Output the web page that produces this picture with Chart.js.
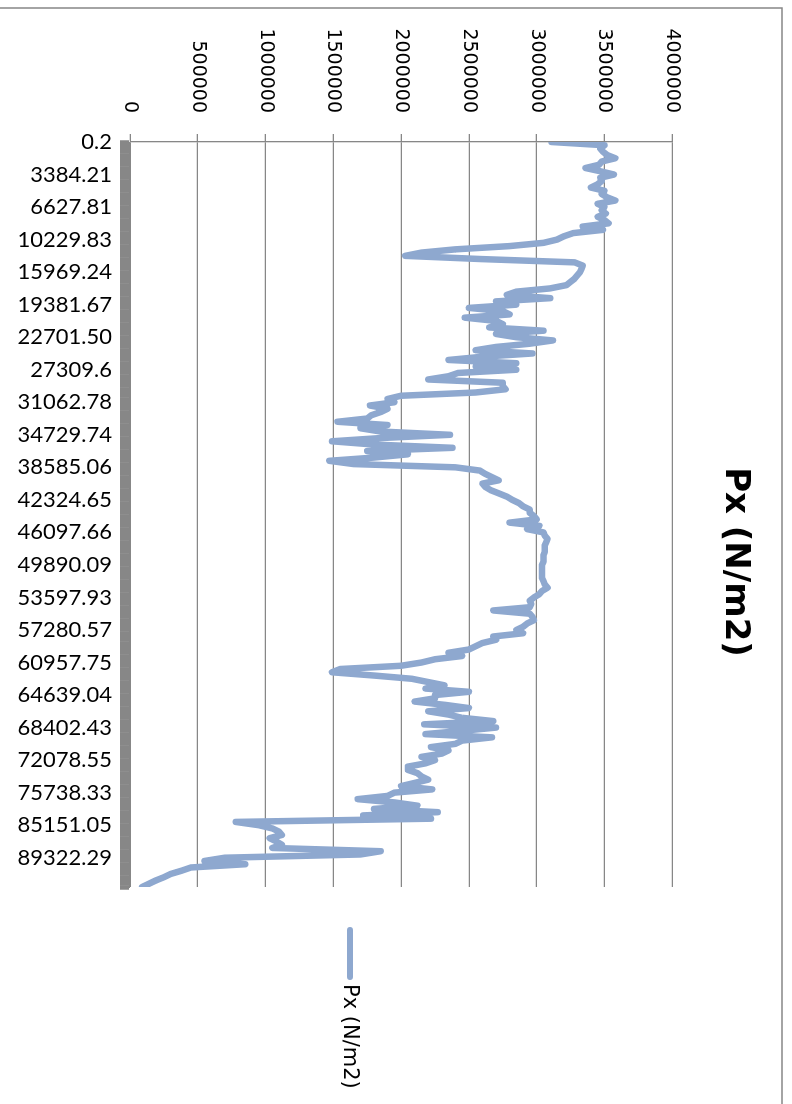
<!DOCTYPE html>
<html>
<head>
<meta charset="utf-8">
<script src="https://cdn.jsdelivr.net/npm/chart.js@4/dist/chart.umd.min.js"></script>
<style>
    body { margin: 0; background: #fff; }
    #wrap { position: relative; width: 792px; height: 1104px; overflow: hidden; background: #fff; }
    /* the Excel chart was landscape and turned a quarter clockwise */
    #pxChart { position: absolute; left: 0; top: 0; transform-origin: 0 0; transform: translate(792px, 0) rotate(90deg); }
</style>
</head>
<body>
<div id="wrap">
    <canvas id="pxChart" width="1104" height="792"></canvas>
</div>
<script>
// category labels shown every 10 points
const catLabels = ["0.2", "3384.21", "6627.81", "10229.83", "15969.24", "19381.67", "22701.50", "27309.6",
    "31062.78", "34729.74", "38585.06", "42324.65", "46097.66", "49890.09", "53597.93", "57280.57",
    "60957.75", "64639.04", "68402.43", "72078.55", "75738.33", "85151.05", "89322.29"];
const labelEvery = 10;

const valueTicks = [0, 500000, 1000000, 1500000, 2000000, 2500000, 3000000, 3500000, 4000000];

// Px (N/m2)
const pxValues = [
    3110000, 3500000, 3470000, 3490000, 3520000, 3580000, 3480000, 3460000, 3360000, 3470000,
    3570000, 3470000, 3480000, 3450000, 3400000, 3500000, 3480000, 3520000, 3580000, 3450000,
    3500000, 3480000, 3510000, 3450000, 3500000, 3530000, 3340000, 3490000, 3270000, 3200000,
    3150000, 3050000, 2800000, 2400000, 2150000, 2030000, 2600000, 3280000, 3340000, 3330000,
    3320000, 3300000, 3280000, 3250000, 3220000, 3100000, 2850000, 2780000, 3100000, 2700000,
    2850000, 2500000, 2750000, 2800000, 2470000, 2700000, 2750000, 2650000, 3050000, 2700000,
    2850000, 3120000, 2950000, 2700000, 2550000, 2970000, 2600000, 2350000, 2850000, 2550000,
    2850000, 2420000, 2350000, 2200000, 2750000, 2750000, 2770000, 2550000, 2000000, 1900000,
    1950000, 1770000, 1900000, 1850000, 1780000, 1750000, 1530000, 1900000, 1700000, 1850000,
    2360000, 1850000, 1490000, 1800000, 2380000, 1750000, 2050000, 1800000, 1470000, 1650000,
    2400000, 2580000, 2620000, 2670000, 2720000, 2600000, 2620000, 2660000, 2720000, 2780000,
    2820000, 2870000, 2900000, 2950000, 2950000, 2980000, 3000000, 2800000, 3020000, 2930000,
    3050000, 3060000, 3080000, 3070000, 3060000, 3060000, 3060000, 3050000, 3050000, 3050000,
    3040000, 3040000, 3040000, 3040000, 3040000, 3050000, 3060000, 3080000, 3040000, 3020000,
    2980000, 2950000, 2960000, 2950000, 2680000, 2950000, 2970000, 2980000, 2930000, 2900000,
    2850000, 2900000, 2680000, 2700000, 2600000, 2550000, 2500000, 2350000, 2450000, 2250000,
    2150000, 2000000, 1550000, 1490000, 1800000, 2080000, 2200000, 2320000, 2180000, 2500000,
    2250000, 2250000, 2100000, 2320000, 2500000, 2200000, 2350000, 2450000, 2680000, 2170000,
    2700000, 2450000, 2180000, 2670000, 2450000, 2400000, 2220000, 2350000, 2300000, 2150000,
    2250000, 2180000, 2050000, 2050000, 2120000, 2150000, 2200000, 2100000, 2000000, 2230000,
    1950000, 1900000, 1680000, 1950000, 2120000, 1800000, 2270000, 1720000, 2220000, 780000,
    950000, 1050000, 1100000, 1120000, 1030000, 1080000, 1120000, 1050000, 1850000, 1700000,
    700000, 550000, 850000, 450000, 380000, 300000, 250000, 190000, 140000, 90000
];

const lineColor = "#8EA8CF";
const gridColor = "#878787";

// chart border + legend drawn by hand (legend sits off-centre in the original)
const excelFrame = {
    id: "excelFrame",
    beforeDraw(chart) {
        const ctx = chart.ctx;
        ctx.save();
        ctx.strokeStyle = gridColor;
        ctx.lineWidth = 1.5;
        ctx.beginPath();
        ctx.moveTo(8, 800);
        ctx.lineTo(8, 10);
        ctx.lineTo(1110, 10);
        ctx.stroke();
        ctx.restore();
    },
    afterDraw(chart) {
        const ctx = chart.ctx;
        const ds = chart.data.datasets[0];
        ctx.save();
        ctx.strokeStyle = ds.borderColor;
        ctx.lineWidth = 6;
        ctx.lineCap = "round";
        ctx.beginPath();
        ctx.moveTo(930, 442);
        ctx.lineTo(977, 442);
        ctx.stroke();
        ctx.fillStyle = "#000";
        ctx.font = '21px "DejaVu Sans"';
        ctx.textAlign = "left";
        ctx.textBaseline = "middle";
        ctx.fillText(ds.label, 984, 443);
        ctx.restore();
    }
};

new Chart(document.getElementById("pxChart"), {
    type: "line",
    data: {
        datasets: [{
            label: "Px (N/m2)",
            data: pxValues.map((v, i) => ({ x: i, y: v })),
            borderColor: lineColor,
            borderWidth: 6.5,
            borderCapStyle: "round",
            borderJoinStyle: "round",
            pointRadius: 0,
            tension: 0
        }]
    },
    options: {
        responsive: false,
        animation: false,
        layout: { padding: { left: 20, top: 0, right: 0, bottom: 0 } },
        plugins: {
            legend: { display: false },
            tooltip: { enabled: false },
            title: {
                display: true,
                text: "Px (N/m2)",
                color: "#000",
                font: { family: "DejaVu Sans", size: 34, weight: "bold", lineHeight: 1.2 },
                padding: { top: 37, bottom: 42 }
            }
        },
        scales: {
            x: {
                type: "linear",
                min: 0,
                max: pxValues.length - 1,
                afterFit: axis => { axis.height = 130; },
                grid: {
                    drawOnChartArea: false,
                    tickLength: 10,
                    tickWidth: 4.5,
                    tickColor: gridColor
                },
                border: { color: gridColor },
                ticks: {
                    stepSize: 1,
                    autoSkip: false,
                    minRotation: 90,
                    maxRotation: 90,
                    padding: 8,
                    color: "#000",
                    font: { family: "Lato", size: 22 },
                    callback: value => value % labelEvery === 0 ? (catLabels[value / labelEvery] || "") : ""
                }
            },
            y: {
                min: 0,
                max: 4000000,
                afterFit: axis => { axis.width = 122; },
                afterBuildTicks: axis => { axis.ticks = valueTicks.map(v => ({ value: v })); },
                grid: { color: gridColor, lineWidth: 1.3, tickLength: 8, tickColor: gridColor },
                border: { color: gridColor, width: 1.3 },
                ticks: {
                    padding: 21,
                    color: "#000",
                    font: { family: "DejaVu Sans", size: 19 },
                    callback: value => String(value)
                }
            },
            // empty axis that only reserves the room where the legend goes
            spacer: {
                type: "linear",
                position: "right",
                afterFit: axis => { axis.width = 217; },
                grid: { display: false },
                border: { display: false },
                ticks: { display: false }
            }
        }
    },
    plugins: [excelFrame]
});
</script>
</body>
</html>
